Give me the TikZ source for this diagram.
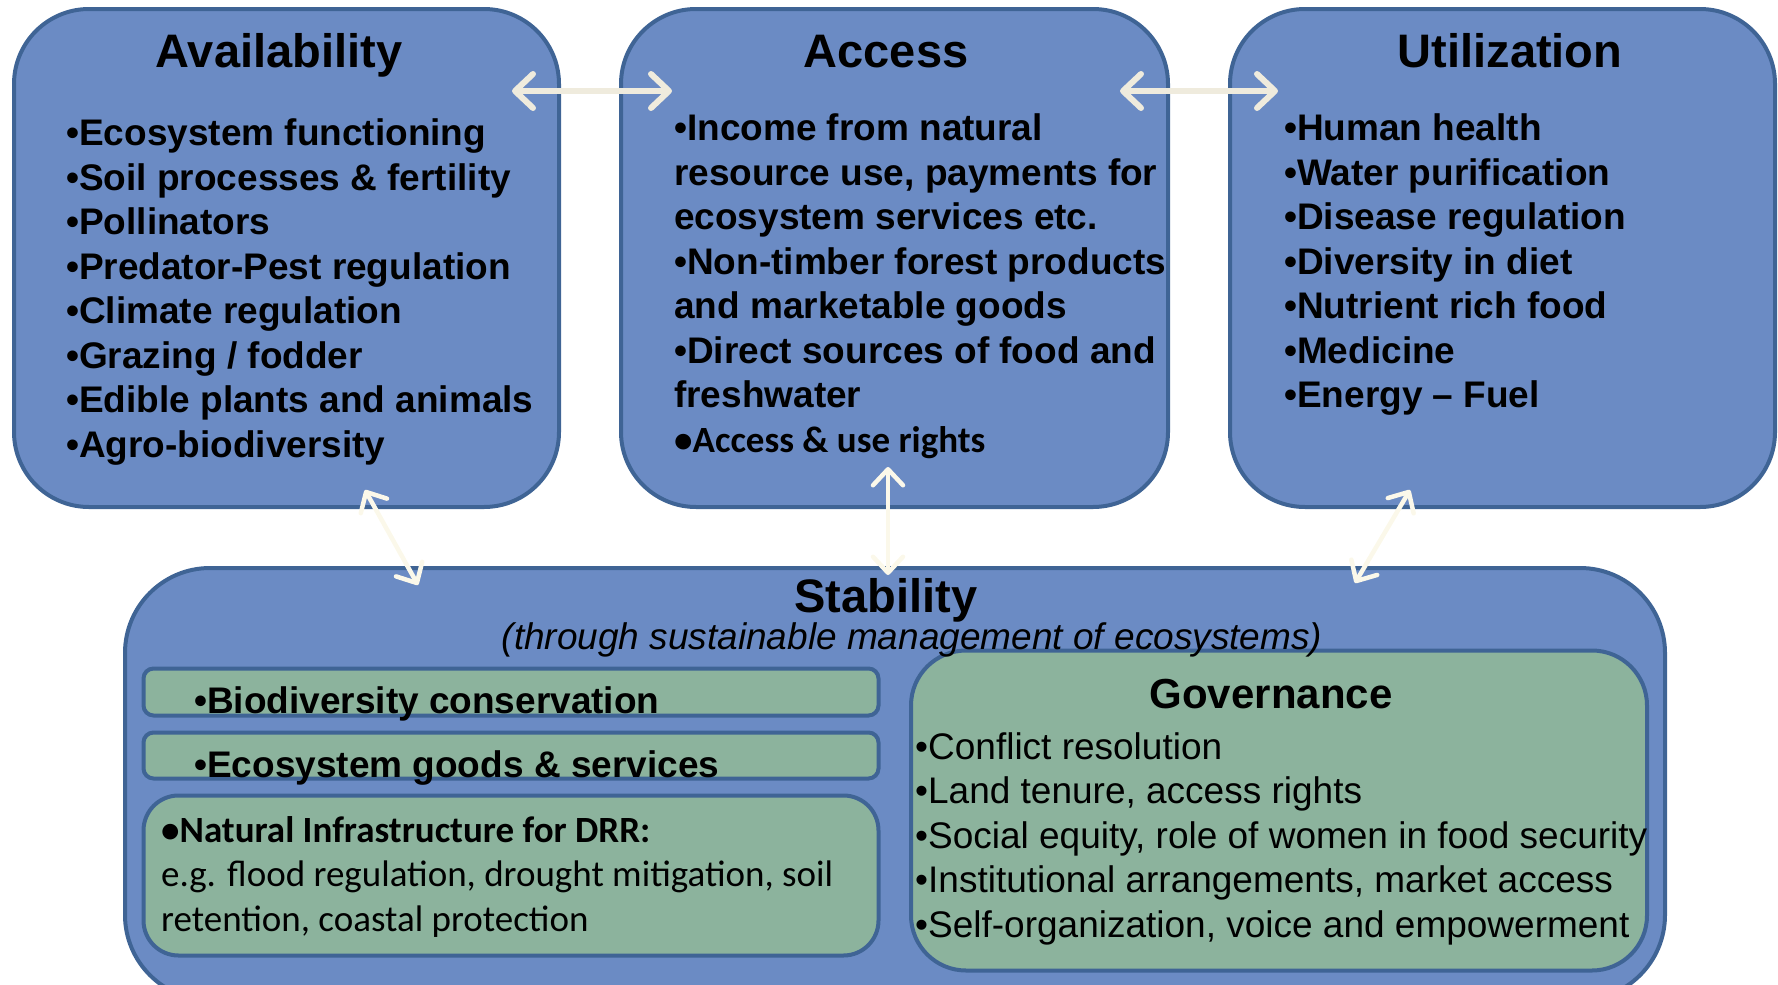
\documentclass[tikz,border=0pt]{standalone}
\usepackage{fontspec}
\setmainfont{Liberation Sans}
\newfontfamily\calibri{Carlito}
\usetikzlibrary{arrows.meta}
\definecolor{fabric}{HTML}{6B8BC4}
\definecolor{leaf}{HTML}{8CB39D}
\definecolor{rim}{HTML}{3F6495}
\definecolor{cream}{HTML}{EFEBDD}
\definecolor{creamlight}{HTML}{FBF8EA}
\newcommand{\firststrut}{\rule{0pt}{34pt}}
\tikzset{
  bluebox/.style={draw=rim, line width=4pt, fill=fabric, rounded corners=75pt, inner sep=0pt},
  greenbox/.style={draw=rim, line width=4pt, fill=leaf, inner sep=0pt},
  boxtitle/.style={font=\bfseries\fontsize{47}{56}\selectfont, anchor=base, inner sep=0pt},
  itemlist/.style={font=\bfseries\fontsize{37}{44.5}\selectfont, align=left, anchor=north west, inner sep=0pt},
  govlist/.style={font=\fontsize{37}{44.5}\selectfont, align=left, anchor=north west, inner sep=0pt},
  linkarrow/.style={draw=cream, line width=6pt, line cap=round, {Straight Barb[length=18pt,width=34pt,line cap=round,line join=round]}-{Straight Barb[length=18pt,width=34pt,line cap=round,line join=round]}},
  linkarrowthin/.style={draw=creamlight, line width=4.5pt, line cap=round, {Straight Barb[length=16pt,width=30pt,line cap=round,line join=round]}-{Straight Barb[length=16pt,width=30pt,line cap=round,line join=round]}}
}
\begin{document}
\begin{tikzpicture}[x=1pt,y=-1pt]
\useasboundingbox (0,0) rectangle (1778,985);
% top boxes
\node[bluebox, minimum width=545pt, minimum height=498pt] (avail) at (286.5,258) {};
\node[bluebox, minimum width=547pt, minimum height=498pt] (access) at (894.5,258) {};
\node[bluebox, minimum width=545pt, minimum height=498pt] (util) at (1502.5,258) {};
% stability box
\node[bluebox, rounded corners=85pt, minimum width=1540pt, minimum height=432pt] (stab) at (895,784) {};
% green boxes
\node[greenbox, rounded corners=10pt, minimum width=735pt, minimum height=47pt] (bio) at (511,692) {};
\node[greenbox, rounded corners=10pt, minimum width=735pt, minimum height=46pt] (eco) at (511,755.5) {};
\node[greenbox, rounded corners=35pt, minimum width=735pt, minimum height=160pt] (natinf) at (511,875.5) {};
\node[greenbox, rounded corners=55pt, minimum width=736pt, minimum height=320pt] (gov) at (1279,810.5) {};
% titles
\node[boxtitle] (availT) at (279,67) {Availability};
\node[boxtitle] (accessT) at (886,67) {Access};
\node[boxtitle] (utilT) at (1510,67) {Utilization};
\node[boxtitle] (stabT) at (886,612) {Stability};
\node[anchor=base, inner sep=0pt, font=\itshape\fontsize{37}{44}\selectfont] (stabS) at (912,649) {(through sustainable management of ecosystems)};
\node[anchor=base, inner sep=0pt, font=\bfseries\fontsize{42}{50}\selectfont] (govT) at (1271,708) {Governance};
% lists
\node[itemlist] (availL) at (66,111.5) {\firststrut•Ecosystem functioning\\•Soil processes \& fertility\\•Pollinators\\•Predator-Pest regulation\\•Climate regulation\\•Grazing / fodder\\•Edible plants and animals\\•Agro-biodiversity};
\node[itemlist] (accessL) at (674,106.5) {\firststrut•Income from natural\\resource use, payments for\\ecosystem services etc.\\•Non-timber forest products\\and marketable goods\\•Direct sources of food and\\freshwater\\{\calibri\bfseries •Access \& use rights}};
\node[itemlist] (utilL) at (1284,106.5) {\firststrut•Human health\\•Water purification\\•Disease regulation\\•Diversity in diet\\•Nutrient rich food\\•Medicine\\•Energy – Fuel};
\node[itemlist, anchor=base west] (bioT) at (194,713.5) {•Biodiversity conservation};
\node[itemlist, anchor=base west] (ecoT) at (194,777) {•Ecosystem goods \& services};
\node[govlist, font=\calibri\fontsize{37}{44.5}\selectfont] (natT) at (161,808) {\firststrut{\bfseries •Natural Infrastructure for DRR:}\\e.g. flood regulation, drought mitigation, soil\\retention, coastal protection};
\node[govlist] (govL) at (915,725) {\firststrut•Conflict resolution\\•Land tenure, access rights\\•Social equity, role of women in food security\\•Institutional arrangements, market access\\•Self-organization, voice and empowerment};
% arrow ends
\coordinate (p1) at (512,91);
\coordinate (p2) at (672,91);
\coordinate (p3) at (1120,91);
\coordinate (p4) at (1278,91);
\coordinate (p5) at (365,490);
\coordinate (p6) at (418,585);
\coordinate (p7) at (888,467);
\coordinate (p8) at (888,575);
\coordinate (p9) at (1410,490);
\coordinate (p10) at (1355,583);
\draw[linkarrow] (p1) -- (p2);
\draw[linkarrow] (p3) -- (p4);
\draw[linkarrowthin] (p5) -- (p6);
\draw[linkarrowthin] (p7) -- (p8);
\draw[linkarrowthin] (p9) -- (p10);
\end{tikzpicture}
\end{document}
